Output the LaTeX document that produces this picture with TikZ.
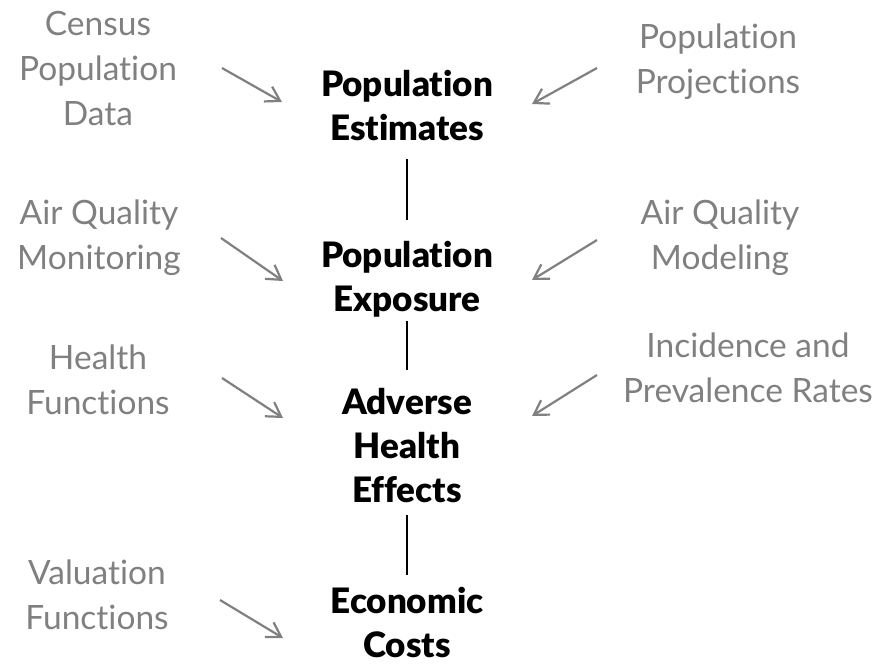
\documentclass[tikz,border=0pt]{standalone}
\usepackage{fontspec}
\setmainfont{Lato}[BoldFont=Lato Black, Ligatures=NoCommon]
\usetikzlibrary{arrows.meta,calc}
\definecolor{inputgray}{gray}{0.5}

\begin{document}
\begin{tikzpicture}[x=1pt,y=-1pt,
    stage/.style={align=center, font=\bfseries\fontsize{35}{44}\selectfont},
    source/.style={align=center, text=inputgray, font=\fontsize{33.5}{45}\selectfont},
    feed/.style={-{Straight Barb[length=14pt,width=17pt]}, line width=2.2pt, inputgray},
    link/.style={line width=2.2pt}]
    \useasboundingbox (0,0) rectangle (880,669);
    % chain of stages in the middle
    \node[stage] (est) at (407,105) {Population\\Estimates};
    \node[stage] (exp) at (407,279) {Population\\Exposure};
    \node[stage] (eff) at (407,446) {Adverse\\Health\\Effects};
    \node[stage] (cost) at (407,622) {Economic\\Costs};
    % data sources on the left
    \node[source] (census) at (98,68) {Census\\Population\\Data};
    \node[source] (aqmon) at (99,238) {Air Quality\\Monitoring};
    \node[source] (hfun) at (98,380) {Health\\Functions};
    \node[source] (vfun) at (97,595) {Valuation\\Functions};
    % data sources on the right
    \node[source] (proj) at (718,62) {Population\\Projections};
    \node[source] (aqmod) at (720,238) {Air Quality\\Modeling};
    \node[source] (rates) at (748,368) {Incidence and\\Prevalence Rates};
    % links between stages
    \draw[link, shorten <=15pt, shorten >=17pt] (est.south) -- (exp.north);
    \draw[link, shorten >=15pt] (exp.south) -- (eff.north);
    \draw[link, shorten <=8pt, shorten >=8pt] (eff.south) -- (cost.north);
    % inputs feeding the stages
    \draw[feed] ($(census)+(124,0)$) -- ($(est)+(-125,-3)$);
    \draw[feed] ($(proj)+(-121,6)$) -- ($(est)+(125,-1)$);
    \draw[feed] ($(aqmon)+(122,0)$) -- ($(exp)+(-124,2)$);
    \draw[feed] ($(aqmod)+(-123,2)$) -- ($(exp)+(125,1)$);
    \draw[feed] ($(hfun)+(124,-2)$) -- ($(eff)+(-124,-28)$);
    \draw[feed] ($(rates)+(-151,7)$) -- ($(eff)+(125,-30)$);
    \draw[feed] ($(vfun)+(123,5)$) -- ($(cost)+(-124,16)$);
\end{tikzpicture}
\end{document}
